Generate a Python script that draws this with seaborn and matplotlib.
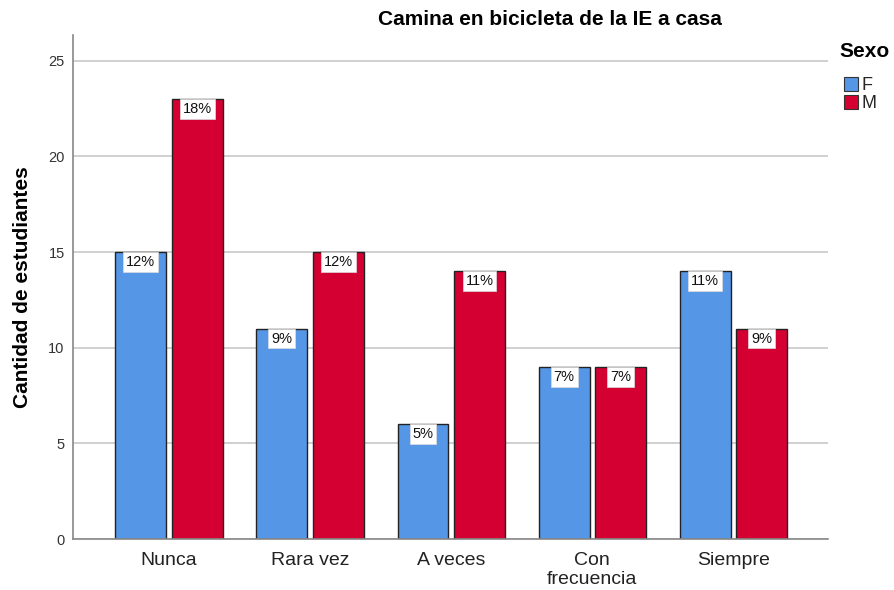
import numpy as np
import pandas as pd
import matplotlib
matplotlib.use("Agg")
import matplotlib.pyplot as plt
import seaborn as sns

# datos
categorias = ['Nunca', 'Rara vez', 'A veces', 'Con\nfrecuencia', 'Siempre']
fem = [15, 11, 6, 9, 14]
masc = [23, 15, 14, 9, 11]
sexos = ['F', 'M']
colores = ['#5596E6', '#D40032']

total = sum(fem) + sum(masc)

df = pd.DataFrame({
    'categoria': categorias * 2,
    'Sexo': ['F'] * len(categorias) + ['M'] * len(categorias),
    'n': fem + masc,
})

sns.set_style('white')
plt.rcParams['font.family'] = ['Liberation Sans', 'DejaVu Sans']

fig = plt.figure(figsize=(8.95, 5.9), dpi=100)
ax = fig.add_axes([0.0816, 0.0864, 0.8436, 0.8543])

sns.barplot(data=df, x='categoria', y='n', hue='Sexo', order=categorias,
            hue_order=sexos, palette=colores, width=0.8, gap=0.1,
            edgecolor='#222222', linewidth=1, saturation=1, ax=ax, legend=False)

# etiquetas de porcentaje dentro de la barra
for cont in ax.containers:
    for p in cont:
        h = p.get_height()
        pct = '%d%%' % round(h / total * 100)
        ax.text(p.get_x() + p.get_width() / 2, h - 0.52, pct, ha='center', va='center',
                fontsize=10.5, color='#111111',
                bbox=dict(boxstyle='square,pad=0.2', fc='white', ec='#dddddd', lw=0.5))

ax.set_ylim(0, 26.35)
ax.set_xlim(-0.68, 4.67)
ax.set_yticks(np.arange(0, 26, 5))
ax.yaxis.grid(True, color='#c8c8c8', linewidth=1.2)
ax.set_axisbelow(True)
ax.tick_params(axis='y', labelsize=10.5, colors='#333333', length=0, pad=6)
ax.tick_params(axis='x', labelsize=14, colors='#222222', length=0, pad=9)
for s in ['top', 'right']:
    ax.spines[s].set_visible(False)
for s in ['left', 'bottom']:
    ax.spines[s].set_color('#888888')
    ax.spines[s].set_linewidth(1.2)

ax.set_xlabel('')
ax.set_ylabel('Cantidad de estudiantes', fontsize=15, fontweight='bold', labelpad=12,
              color='black')

fig.text(0.6145, 0.967, 'Camina en bicicleta de la IE a casa', ha='center', va='center',
         fontsize=15, fontweight='bold', color='black')

# leyenda
fig.text(0.938, 0.912, 'Sexo', ha='left', va='center', fontsize=15, fontweight='bold',
         color='black')
handles = [plt.Rectangle((0, 0), 1, 1, fc=c, ec='#333333', lw=0.8) for c in colores]
leg = fig.legend(handles, sexos, loc='upper left', bbox_to_anchor=(0.943, 0.870),
                 frameon=False, fontsize=13, handlelength=0.8, handleheight=0.8,
                 handletextpad=0.15, labelspacing=0.05, borderaxespad=0.0, borderpad=0.0)

fig.savefig('out.png', dpi=100)
